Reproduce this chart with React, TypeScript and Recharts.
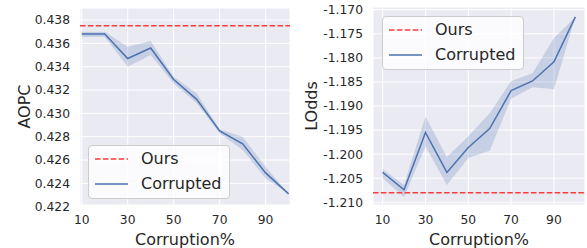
import React from 'react';
import { Area, CartesianGrid, ComposedChart, Label, Legend, Line, ReferenceLine, XAxis, YAxis } from 'recharts';

const corruption = [10, 20, 30, 40, 50, 60, 70, 80, 90, 100];

const aopcMean = [0.4368, 0.4368, 0.4347, 0.4356, 0.4329, 0.4312, 0.4285, 0.4274, 0.4249, 0.4231];
const aopcLow = [0.43655, 0.43655, 0.434, 0.435, 0.43257, 0.43086, 0.4283, 0.42686, 0.42443, 0.4231];
const aopcHigh = [0.437, 0.437, 0.43571, 0.4362, 0.43314, 0.43172, 0.42863, 0.428, 0.42543, 0.4231];
const aopcOurs = 0.4375;

const loddsMean = [-1.2038, -1.2074, -1.1955, -1.2038, -1.1986, -1.1947, -1.1868, -1.1848, -1.1808, -1.1715];
const loddsLow = [-1.205, -1.2089, -1.1984, -1.2064, -1.2008, -1.1993, -1.1885, -1.1861, -1.1865, -1.1715];
const loddsHigh = [-1.2031, -1.2064, -1.1922, -1.2006, -1.1963, -1.1915, -1.1848, -1.1832, -1.1759, -1.1715];
const loddsOurs = -1.208;

const xTicks = [10, 30, 50, 70, 90];
const aopcTicks = [0.422, 0.424, 0.426, 0.428, 0.43, 0.432, 0.434, 0.436, 0.438];
const loddsTicks = [-1.21, -1.205, -1.2, -1.195, -1.19, -1.185, -1.18, -1.175, -1.17];

const legendNames = ['Ours', 'Corrupted'];

const font = '"DejaVu Sans", sans-serif';
const textColor = '#262626';
const blue = '#4C72B0';
const red = '#f83b3b';
const tick = { fill: textColor, fontSize: 12.3, fontFamily: font };

function rows(mean: number[], low: number[], high: number[]) {
  return corruption.map((x, i) => ({ x, mean: mean[i], band: [low[i], high[i]] }));
}

function LegendBox() {
  return (
    <div
      style={{
        width: 140,
        height: 51,
        border: '1px solid #cccccc',
        borderRadius: 4,
        background: 'rgba(255,255,255,0.8)',
        fontFamily: font,
        fontSize: 16,
        color: textColor,
        paddingTop: 1,
      }}
    >
      {legendNames.map((name, i) => (
        <div key={name} style={{ display: 'flex', alignItems: 'center', height: 24.5 }}>
          <svg width={52} height={10} style={{ flex: 'none' }}>
            <line
              x1={6}
              x2={39}
              y1={5}
              y2={5}
              stroke={i === 0 ? red : blue}
              strokeWidth={1.5}
              strokeDasharray={i === 0 ? '5.5 2.4' : undefined}
            />
          </svg>
          <span style={{ lineHeight: '16px' }}>{name}</span>
        </div>
      ))}
    </div>
  );
}

function yLabel(text: string, cx: number) {
  return ({ viewBox }: any) => (
    <text
      x={cx}
      y={viewBox.y + viewBox.height / 2}
      transform={`rotate(-90 ${cx} ${viewBox.y + viewBox.height / 2})`}
      textAnchor="middle"
      dominantBaseline="central"
      fill={textColor}
      fontSize={16}
      fontFamily={font}
    >
      {text}
    </text>
  );
}

function Panel({
  data, ours, ticks, yDomain, xDomain, name, labelX, top, legendPos, fmt,
}: {
  data: any[]; ours: number; ticks: number[]; yDomain: [number, number]; xDomain: [number, number];
  name: string; labelX: number; top: number; legendPos: { left: number; top: number }; fmt: (v: number) => string;
}) {
  return (
    <ComposedChart width={292} height={248} data={data} margin={{ top, right: 2, left: 0, bottom: 0 }}>
      <CartesianGrid fill="#EAEAF2" stroke="#ffffff" strokeWidth={1} />
      <XAxis
        dataKey="x"
        type="number"
        domain={xDomain}
        ticks={xTicks}
        interval={0}
        axisLine={false}
        tickLine={false}
        tickSize={0}
        tickMargin={10}
        height={43}
        tick={tick}
      >
        <Label value="Corruption%" position="insideBottom" offset={3} fill={textColor} fontSize={16} fontFamily={font} />
      </XAxis>
      <YAxis
        type="number"
        domain={yDomain}
        ticks={ticks}
        interval={0}
        axisLine={false}
        tickLine={false}
        tickSize={0}
        tickMargin={10}
        width={labelX}
        tick={tick}
        tickFormatter={fmt}
        label={yLabel(name, name === 'AOPC' ? 24.5 : 16)}
      />
      <Area dataKey="band" stroke="none" fill={blue} fillOpacity={0.22} isAnimationActive={false} />
      <Line dataKey="mean" stroke={blue} strokeWidth={1.5} dot={false} isAnimationActive={false} />
      <ReferenceLine y={ours} stroke={red} strokeWidth={1.5} strokeDasharray="5.5 2.4" />
      <Legend
        layout="vertical"
        align="center"
        verticalAlign="middle"
        content={() => <LegendBox />}
        wrapperStyle={{ left: legendPos.left, top: legendPos.top, width: 142 }}
      />
    </ComposedChart>
  );
}

export default function App() {
  const fmt = (v: number) => v.toFixed(3);
  return (
    <div style={{ position: 'absolute', left: 0, top: 0, width: 587, height: 248, background: '#fff' }}>
      <div style={{ position: 'absolute', left: 0, top: 0 }}>
        <Panel
          data={rows(aopcMean, aopcLow, aopcHigh)}
          ours={aopcOurs}
          ticks={aopcTicks}
          yDomain={[0.42215, 0.43903]}
          xDomain={[9.25, 100.6]}
          name="AOPC"
          labelX={80}
          top={8}
          legendPos={{ left: 88, top: 145 }}
          fmt={fmt}
        />
      </div>
      <div style={{ position: 'absolute', left: 295, top: 0 }}>
        <Panel
          data={rows(loddsMean, loddsLow, loddsHigh)}
          ours={loddsOurs}
          ticks={loddsTicks}
          yDomain={[-1.21056, -1.16944]}
          xDomain={[5.5, 104.5]}
          name="LOdds"
          labelX={78}
          top={7}
          legendPos={{ left: 87, top: 16 }}
          fmt={fmt}
        />
      </div>
    </div>
  );
}
